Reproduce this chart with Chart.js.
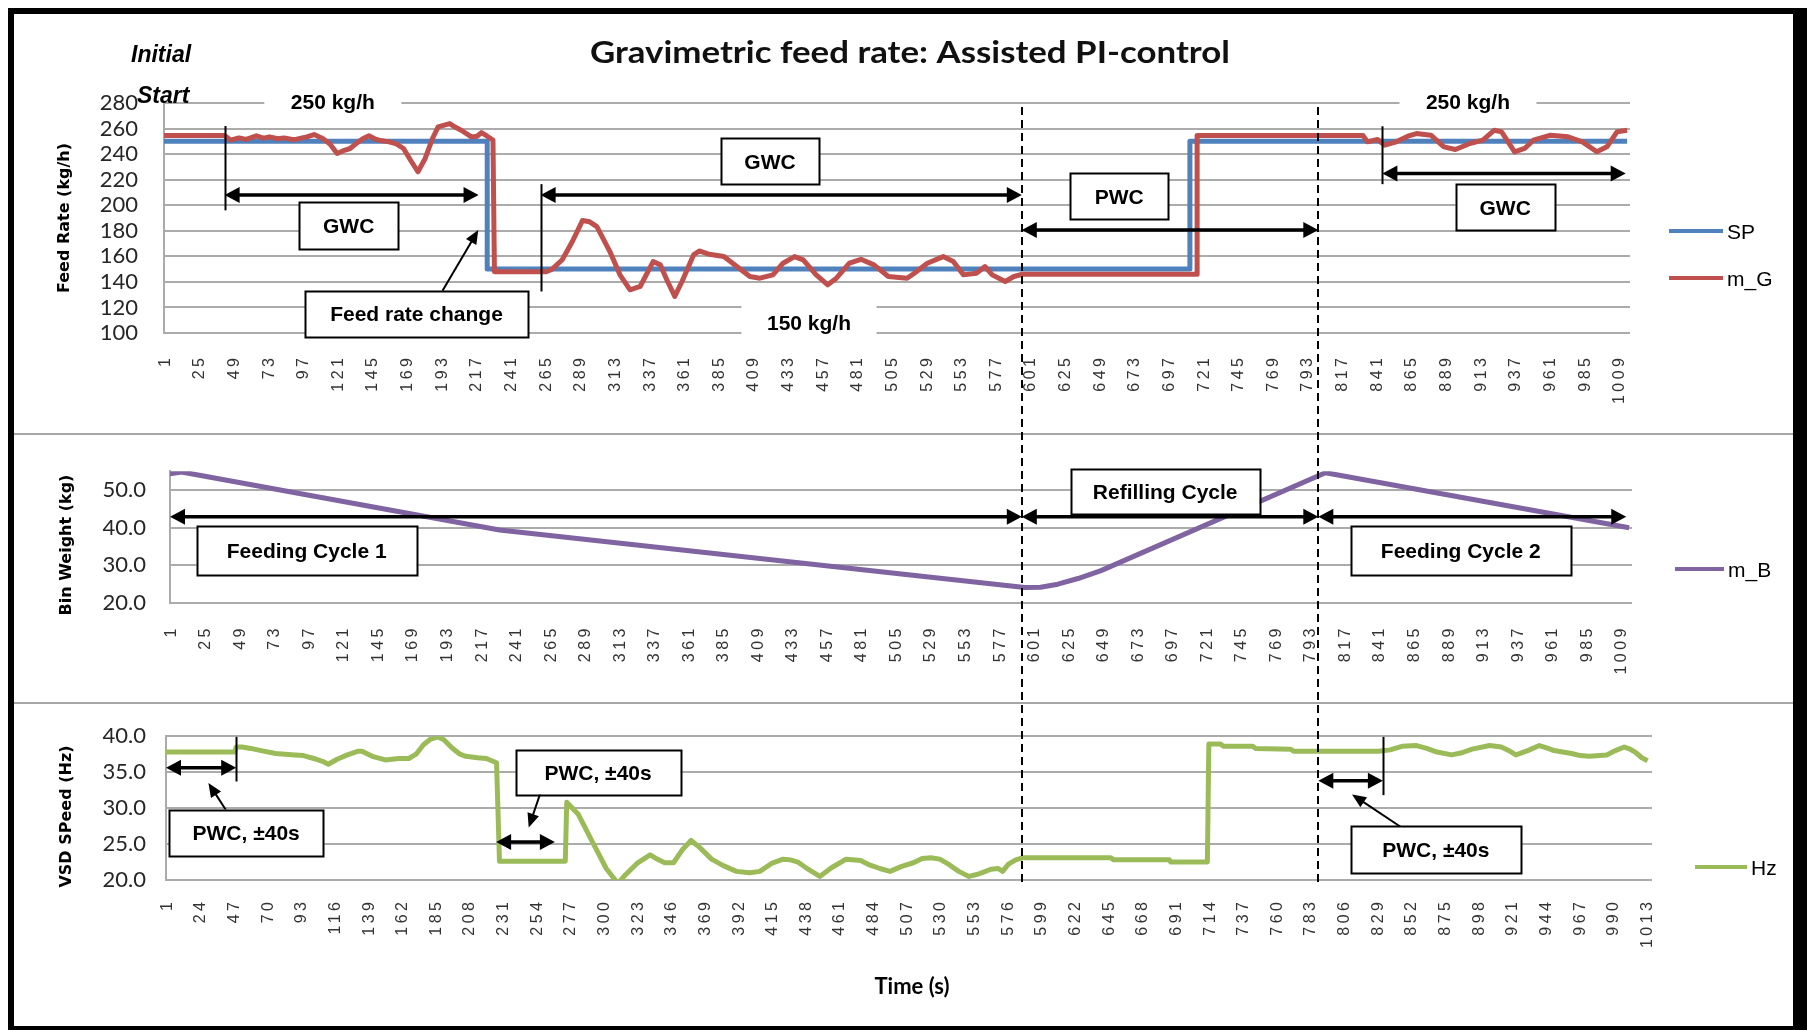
<!DOCTYPE html>
<html>
<head>
<meta charset="utf-8">
<title>Gravimetric feed rate: Assisted PI-control</title>
<script src="https://cdn.jsdelivr.net/npm/chart.js@4.4.1/dist/chart.umd.min.js"></script>
<style>
  html, body { margin: 0; padding: 0; background: #fff; }
  #page { position: relative; width: 1807px; height: 1030px; overflow: hidden; background: #fff; }
  #page canvas { position: absolute; left: 0; }
</style>
</head>
<body>
<div id="page">
  <canvas id="cFeed" width="1807" height="434" style="top:0px"></canvas>
  <canvas id="cBin" width="1807" height="269" style="top:434px"></canvas>
  <canvas id="cVsd" width="1807" height="327" style="top:703px"></canvas>
  <canvas id="cFrame" width="1807" height="1030" style="top:0px;pointer-events:none"></canvas>
</div>
<script>
// ---- time-axis tick labels (s) ----
const feedTimeTicks = [1,25,49,73,97,121,145,169,193,217,241,265,289,313,337,361,385,409,433,457,481,505,529,553,577,601,625,649,673,697,721,745,769,793,817,841,865,889,913,937,961,985,1009];
const vsdTimeTicks = [1,24,47,70,93,116,139,162,185,208,231,254,277,300,323,346,369,392,415,438,461,484,507,530,553,576,599,622,645,668,691,714,737,760,783,806,829,852,875,898,921,944,967,990,1013];

// ---- value-axis ticks ----
const feedRateTicks = [100,120,140,160,180,200,220,240,260,280];
const binWeightTicks = [20,30,40,50];
const vsdSpeedTicks = [20,25,30,35,40];

// ---- feed rate set point SP (kg/h) ----
const spTime = [1,225,225,712,712,1015];
const spRate = [250,250,150,150,250,250];

// ---- measured gravimetric feed rate m_G (kg/h) ----
const mgTime = [1,43,47,53,58,65,70,74,80,84,90,93,100,105,111,116,121,126,130,135,139,143,147,150,157,162,167,172,177,182,187,191,199,203,207,214,218,221,225,229,230,266,270,277,284,291,296,301,310,317,324,331,340,345,350,355,360,368,372,379,389,398,407,414,423,430,438,444,453,461,467,476,484,493,503,516,521,530,541,548,555,564,570,575,584,590,596,717,717,832,835,842,847,855,863,869,879,888,896,906,915,923,928,937,944,950,962,974,984,994,1001,1008,1015];
const mgRate = [254.5,254.5,251,252.7,251.5,254.3,252.5,253.5,252,252.7,251.5,251.7,253.5,255.3,252.2,248,240.5,243,244.4,249,252.2,254.3,252,250.9,249.6,248,244.4,235,226.2,236.6,252,261.3,263.9,261,258.7,253.5,254,256.8,254,251,148,148,150,157.3,171.6,188,187,183.2,163.7,145.5,133.8,136.4,155.9,153.3,140.3,128.6,140.3,161.1,164.2,161.6,159.8,152,144.2,142.9,145.5,154.6,159.8,157.2,145.5,137.7,142.9,154.6,157.7,153.3,144.2,142.9,146.8,154.6,159.8,155.9,145.5,146.8,152,145.5,140.3,144.2,146,146,254.5,254.5,249.6,251.4,247,249.6,254,256.1,254.8,245.7,243.6,248.3,250.9,258.7,257.4,241.8,244.4,250.9,254.8,253.5,249.6,241.8,245.7,257.4,258.7];

// ---- bin weight m_B (kg) ----
const mbTime = [1,9,230,595,606,618,632,648,804,1015];
const mbWeight = [54.3,54.8,39.4,24.1,24.2,25.0,26.5,28.6,54.6,40.0];

// ---- VSD speed (Hz) ----
const hzTime = [1,48,49,53,59,66,76,89,95,102,108,112,118,125,132,135,142,151,160,167,172,177,182,187,191,197,202,206,214,220,227,229,274,275,283,292,302,310,315,323,332,336,342,348,354,360,366,374,382,391,400,407,415,423,428,433,440,448,456,466,476,482,489,496,504,512,518,524,530,536,543,550,556,560,565,570,573,577,582,587,647,649,687,688,713,714,722,724,744,746,770,772,830,838,846,856,863,870,880,887,894,906,914,920,924,932,940,946,950,962,968,974,986,992,998,1002,1006,1010,1014];
const hzSpeed = [37.8,37.8,38.5,38.5,38.3,38.0,37.6,37.4,37.3,36.9,36.5,36.1,36.8,37.4,37.9,37.9,37.2,36.7,36.9,36.9,37.5,38.8,39.6,39.9,39.5,38.3,37.5,37.2,37.0,36.9,36.3,22.6,22.6,30.8,29.1,25.5,21.6,19.5,20.7,22.3,23.5,23.0,22.4,22.4,24.2,25.5,24.5,22.9,22.0,21.2,21.0,21.2,22.3,22.9,22.8,22.5,21.5,20.5,21.7,22.9,22.7,22.1,21.6,21.2,21.9,22.4,23.0,23.1,22.9,22.2,21.2,20.5,20.8,21.1,21.5,21.6,21.2,22.2,22.8,23.1,23.1,22.8,22.8,22.5,22.5,38.9,38.9,38.6,38.6,38.3,38.2,37.9,37.9,38.1,38.6,38.7,38.3,37.8,37.4,37.7,38.2,38.7,38.5,37.9,37.4,38.0,38.7,38.3,38.0,37.6,37.3,37.2,37.4,38.0,38.5,38.2,37.7,37.0,36.6];

// ---- cycle boundaries (feeding -> refilling -> feeding), on the feed-rate time base ----
const cycleSwitch = [595.5, 801];

const pts = (xs, ys) => xs.slice(0, Math.min(xs.length, ys.length)).map((x, i) => ({ x, y: ys[i] }));

const charts = {};
const BOX_FONT = 'bold 21px "Liberation Sans", Arial, sans-serif';

function arrowHead(ctx, x, y, ang, len, half) {
  const c = Math.cos(ang), s = Math.sin(ang);
  ctx.beginPath();
  ctx.moveTo(x, y);
  ctx.lineTo(x - len * c + half * s, y - len * s - half * c);
  ctx.lineTo(x - len * c - half * s, y - len * s + half * c);
  ctx.closePath();
  ctx.fill();
}

function centeredText(ctx, text, x, y, px) {
  ctx.textAlign = 'center';
  ctx.textBaseline = 'alphabetic';
  ctx.fillText(text, x, y + px * 0.716 / 2);
}

// draws time-axis labels, axis title, legend and the cycle annotations of one panel
const panelDecor = {
  id: 'panelDecor',
  afterDatasetsDraw(chart, args, o) {
    const ctx = chart.ctx, xs = chart.scales.x, ys = chart.scales.y;
    const base = charts.feed || chart;
    const X = t => (typeof t === 'string')
      ? base.scales.x.getPixelForValue(cycleSwitch[+t.slice(2)])
      : xs.getPixelForValue(t);
    const Y = v => ys.getPixelForValue(v);

    ctx.save();
    ctx.fillStyle = '#000';
    ctx.strokeStyle = '#000';
    (o.notes || []).forEach(n => {
      if (n.kind === 'gap') {
        const x = X(n.t), y = Y(n.v);
        ctx.fillStyle = '#fff';
        ctx.fillRect(x - n.w / 2, y - n.h / 2, n.w, n.h);
        ctx.fillStyle = '#000';
        ctx.font = BOX_FONT;
        centeredText(ctx, n.text, x, y + (n.dy || 0), 21);
      } else if (n.kind === 'mark') {
        const x = Math.round(X(n.t)) + 0.5;
        ctx.lineWidth = 2;
        ctx.beginPath(); ctx.moveTo(x, Y(n.v1)); ctx.lineTo(x, Y(n.v2)); ctx.stroke();
      } else if (n.kind === 'span') {
        const x1 = X(n.t1), x2 = X(n.t2), y = Y(n.v);
        ctx.lineWidth = 3.5;
        ctx.beginPath(); ctx.moveTo(x1 + 10, y); ctx.lineTo(x2 - 10, y); ctx.stroke();
        arrowHead(ctx, x2, y, 0, 15, 8);
        arrowHead(ctx, x1, y, Math.PI, 15, 8);
      } else if (n.kind === 'pointer') {
        const x1 = X(n.t1), y1 = Y(n.v1), x2 = X(n.t2), y2 = Y(n.v2);
        const ang = Math.atan2(y2 - y1, x2 - x1);
        ctx.lineWidth = 2;
        ctx.beginPath(); ctx.moveTo(x1, y1); ctx.lineTo(x2 - 8 * Math.cos(ang), y2 - 8 * Math.sin(ang)); ctx.stroke();
        arrowHead(ctx, x2, y2, ang, 14, 6);
      } else if (n.kind === 'box') {
        const x = X(n.t), y = Y(n.v);
        ctx.fillStyle = '#fff';
        ctx.fillRect(x - n.w / 2, y - n.h / 2, n.w, n.h);
        ctx.lineWidth = 2;
        ctx.strokeRect(Math.round(x - n.w / 2) + 0.5, Math.round(y - n.h / 2) + 0.5, n.w, n.h);
        ctx.fillStyle = '#000';
        ctx.font = BOX_FONT;
        centeredText(ctx, n.text, x, y, 21);
      }
    });
    ctx.restore();
  },
  afterDraw(chart, args, o) {
    const ctx = chart.ctx, xs = chart.scales.x, area = chart.chartArea;

    // rotated time labels
    ctx.save();
    ctx.font = '16px "Liberation Sans", Arial, sans-serif';
    ctx.letterSpacing = '3.5px';
    ctx.fillStyle = '#333';
    const top = area.bottom + o.tickGap;
    o.timeTicks.forEach(t => {
      ctx.save();
      ctx.translate(xs.getPixelForValue(t), top);
      ctx.rotate(-Math.PI / 2);
      ctx.textAlign = 'right';
      ctx.textBaseline = 'alphabetic';
      ctx.fillText(String(t), 3.5, 5.7);
      ctx.restore();
    });
    ctx.restore();

    // value axis title
    ctx.save();
    ctx.font = 'bold 16px "DejaVu Sans", Verdana, sans-serif';
    ctx.fillStyle = '#000';
    ctx.translate(o.yTitle.x, o.yTitle.y);
    ctx.rotate(-Math.PI / 2);
    ctx.textAlign = 'center';
    ctx.textBaseline = 'middle';
    ctx.fillText(o.yTitle.text, 0, 0);
    ctx.restore();

    // legend
    ctx.save();
    o.legend.forEach((item, i) => {
      const ds = chart.data.datasets[i];
      ctx.strokeStyle = ds.borderColor;
      ctx.lineWidth = 4;
      ctx.beginPath(); ctx.moveTo(item.x1, item.y); ctx.lineTo(item.x2, item.y); ctx.stroke();
      ctx.fillStyle = '#000';
      ctx.font = '21px "Liberation Sans Narrow", "Liberation Sans", Arial, sans-serif';
      ctx.textAlign = 'left';
      ctx.textBaseline = 'alphabetic';
      ctx.fillText(ds.label, item.x2 + 4, item.y + 7.5);
    });
    ctx.restore();
  }
};

function lineSet(label, xs, ys, color, order) {
  return {
    label, data: pts(xs, ys), borderColor: color, backgroundColor: color,
    borderWidth: 5, pointRadius: 0, tension: 0, order,
    borderJoinStyle: 'round', borderCapStyle: 'butt'
  };
}

function panel(id, cfg) {
  return new Chart(document.getElementById(id), {
    type: 'line',
    data: { datasets: cfg.datasets },
    options: {
      responsive: false,
      animation: false,
      events: [],
      layout: { padding: cfg.padding },
      plugins: {
        legend: { display: false },
        tooltip: { enabled: false },
        title: { display: false },
        panelDecor: cfg.decor
      },
      scales: {
        x: {
          type: 'linear', min: 1, max: 1017,
          ticks: { display: false },
          grid: { display: false },
          border: { display: false },
          afterFit: s => { s.height = cfg.xHeight; }
        },
        y: {
          type: 'linear', min: cfg.yMin, max: cfg.yMax,
          afterBuildTicks: s => { s.ticks = cfg.yTicks.map(v => ({ value: v })); },
          ticks: {
            autoSkip: false,
            font: { family: 'Lato, "Open Sans", sans-serif', size: 22 },
            color: '#262626',
            padding: cfg.yPad,
            callback: cfg.yFormat
          },
          grid: { color: '#ababab', lineWidth: 2, drawTicks: false },
          border: { display: true, color: '#ababab', width: 2 },
          afterFit: s => { s.width = cfg.yWidth; }
        }
      }
    },
    plugins: [panelDecor]
  });
}

charts.feed = panel('cFeed', {
  datasets: [
    lineSet('SP', spTime, spRate, '#4f81bd', 1),
    lineSet('m_G', mgTime, mgRate, '#c0504d', 0)
  ],
  padding: { left: 14, right: 177, top: 103, bottom: 0 },
  yWidth: 150, xHeight: 101, yPad: 26,
  yMin: 100, yMax: 280, yTicks: feedRateTicks, yFormat: v => String(v),
  decor: {
    timeTicks: feedTimeTicks, tickGap: 25,
    yTitle: { text: 'Feed Rate (kg/h)', x: 65, y: 218 },
    legend: [ { x1: 1669, x2: 1723, y: 231 }, { x1: 1669, x2: 1723, y: 278 } ],
    notes: [
      { kind: 'gap', t: 118, v: 281, w: 137, h: 22, text: '250 kg/h' },
      { kind: 'gap', t: 904.7, v: 281, w: 137, h: 22, text: '250 kg/h' },
      { kind: 'gap', t: 448, v: 110, w: 135, h: 40, text: '150 kg/h', dy: 2 },
      { kind: 'mark', t: 43, v1: 196, v2: 262 },
      { kind: 'span', t1: 43, t2: 219, v: 208 },
      { kind: 'box', t: 129, v: 184, w: 99, h: 47, text: 'GWC' },
      { kind: 'mark', t: 262, v1: 132.5, v2: 216.5 },
      { kind: 'span', t1: 262, t2: 'sw0', v: 208 },
      { kind: 'box', t: 421, v: 234.3, w: 98, h: 46, text: 'GWC' },
      { kind: 'pointer', t1: 194, v1: 133, t2: 218.8, v2: 180.6 },
      { kind: 'box', t: 176, v: 114.9, w: 223, h: 46, text: 'Feed rate change' },
      { kind: 'span', t1: 'sw0', t2: 'sw1', v: 180.6 },
      { kind: 'box', t: 663, v: 207, w: 98, h: 46, text: 'PWC' },
      { kind: 'mark', t: 845.4, v1: 216.5, v2: 261.8 },
      { kind: 'span', t1: 845.4, t2: 1014, v: 224.9 },
      { kind: 'box', t: 930.5, v: 198.6, w: 99, h: 46, text: 'GWC' }
    ]
  }
});

charts.bin = panel('cBin', {
  datasets: [ lineSet('m_B', mbTime, mbWeight, '#8064a2', 0) ],
  padding: { left: 14, right: 175, top: 26, bottom: 0 },
  yWidth: 156, xHeight: 100, yPad: 24,
  yMin: 20, yMax: 55, yTicks: binWeightTicks, yFormat: v => Number(v).toFixed(1),
  decor: {
    timeTicks: feedTimeTicks, tickGap: 25.5,
    yTitle: { text: 'Bin Weight (kg)', x: 67, y: 111 },
    legend: [ { x1: 1675, x2: 1724, y: 135 } ],
    notes: [
      { kind: 'span', t1: 1, t2: 'sw0', v: 42.9 },
      { kind: 'span', t1: 'sw0', t2: 'sw1', v: 42.9 },
      { kind: 'span', t1: 'sw1', t2: 1013, v: 42.9 },
      { kind: 'box', t: 96, v: 34, w: 220, h: 49, text: 'Feeding Cycle 1' },
      { kind: 'box', t: 692.6, v: 49.6, w: 189, h: 45, text: 'Refilling Cycle' },
      { kind: 'box', t: 898, v: 34, w: 220, h: 49, text: 'Feeding Cycle 2' }
    ]
  }
});

charts.vsd = panel('cVsd', {
  datasets: [ lineSet('Hz', hzTime, hzSpeed, '#9bbb59', 0) ],
  padding: { left: 14, right: 155, top: 26, bottom: 0 },
  yWidth: 152, xHeight: 150, yPad: 20,
  yMin: 20, yMax: 40, yTicks: vsdSpeedTicks, yFormat: v => Number(v).toFixed(1),
  decor: {
    timeTicks: vsdTimeTicks, tickGap: 22,
    yTitle: { text: 'VSD SPeed (Hz)', x: 67, y: 113.5 },
    legend: [ { x1: 1695, x2: 1747, y: 164 } ],
    notes: [
      { kind: 'mark', t: 49, v1: 33.7, v2: 39.9 },
      { kind: 'span', t1: 1, t2: 49, v: 35.6 },
      { kind: 'pointer', t1: 42.4, v1: 29.6, t2: 30, v2: 33.5 },
      { kind: 'box', t: 55.8, v: 26.6, w: 154, h: 46, text: 'PWC, ±40s' },
      { kind: 'span', t1: 226.7, t2: 266.9, v: 25.3 },
      { kind: 'pointer', t1: 257, v1: 32.1, t2: 249, v2: 27.3 },
      { kind: 'box', t: 296.4, v: 35, w: 165, h: 45, text: 'PWC, ±40s' },
      { kind: 'mark', t: 833, v1: 31.8, v2: 39.9 },
      { kind: 'span', t1: 'sw1', t2: 833, v: 33.8 },
      { kind: 'pointer', t1: 845.8, v1: 27.3, t2: 811.9, v2: 31.9 },
      { kind: 'box', t: 869.2, v: 24.2, w: 170, h: 47, text: 'PWC, ±40s' }
    ]
  }
});

// frame, panel separators, cycle boundaries and the shared texts
(function drawFrame() {
  const ctx = document.getElementById('cFrame').getContext('2d');
  const xs = charts.feed.scales.x;

  ctx.fillStyle = '#a6a6a6';
  ctx.fillRect(14, 433, 1780, 2);
  ctx.fillRect(14, 702, 1780, 2);

  ctx.strokeStyle = '#000';
  ctx.lineWidth = 2;
  ctx.setLineDash([8, 5]);
  cycleSwitch.forEach(t => {
    const x = Math.round(xs.getPixelForValue(t));
    ctx.beginPath(); ctx.moveTo(x, 107); ctx.lineTo(x, 883); ctx.stroke();
  });
  ctx.setLineDash([]);

  ctx.fillStyle = '#000';
  ctx.fillRect(8, 8, 1799, 6);
  ctx.fillRect(8, 8, 6, 1030);
  ctx.fillRect(1793, 8, 14, 1030);
  ctx.fillRect(8, 1026, 1799, 6);

  const title = 'Gravimetric feed rate: Assisted PI-control';
  ctx.fillStyle = '#111';
  ctx.font = 'bold 31px Lato, "Liberation Sans", sans-serif';
  const w = ctx.measureText(title).width;
  ctx.save();
  ctx.translate(910, 63);
  ctx.scale(640 / w, 1);
  ctx.textAlign = 'center';
  ctx.textBaseline = 'alphabetic';
  ctx.fillText(title, 0, 0);
  ctx.restore();

  ctx.fillStyle = '#000';
  ctx.font = 'italic bold 23px "Liberation Sans", Arial, sans-serif';
  ctx.textAlign = 'left';
  ctx.fillText('Initial', 131, 62);
  ctx.fillText('Start', 137, 103);

  ctx.font = 'bold 22px Lato, "Liberation Sans", sans-serif';
  ctx.textAlign = 'center';
  ctx.fillText('Time (s)', 912, 994);
})();
</script>
</body>
</html>
